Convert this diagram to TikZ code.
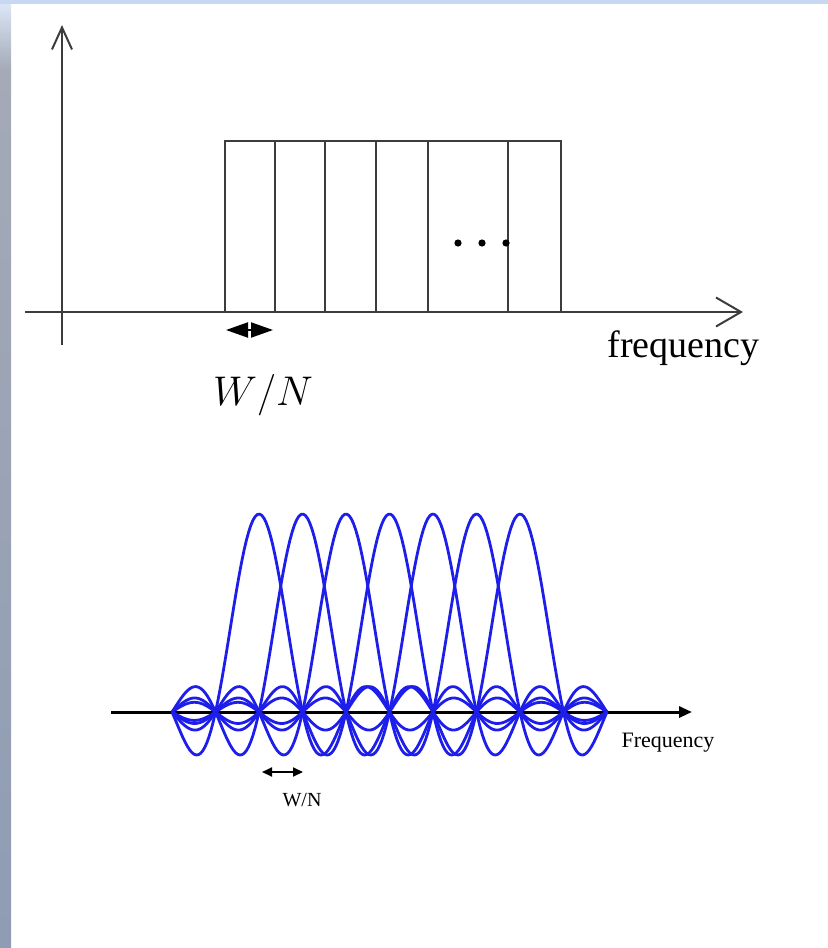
\documentclass[tikz,border=0pt]{standalone}
\usepackage{fontspec}
\setmainfont{Liberation Serif}
\usetikzlibrary{arrows.meta}
\definecolor{axisc}{RGB}{60,60,60}
\definecolor{pulsec}{RGB}{30,30,235}
\definecolor{frametop}{RGB}{222,233,250}
\definecolor{framemid}{RGB}{164,170,182}
\definecolor{framebot}{RGB}{143,156,180}
\definecolor{framebar}{RGB}{200,216,242}
\tikzset{
  plainaxis/.style={axisc, line width=1pt},
  subband/.style={axisc, line width=1pt},
  pulse/.style={pulsec, line width=1.4pt, line join=round},
  lbl/.style={inner sep=0pt, anchor=base},
}

\begin{document}
\begin{tikzpicture}[x=0.5pt, y=-0.5pt]
  \useasboundingbox (0,0) rectangle (828,948);
  % window frame
  \shade[top color=frametop, bottom color=framemid] (0,0) rectangle (11,70);
  \shade[top color=framemid, bottom color=framebot] (0,70) rectangle (11,948);
  \fill[framebar] (0,0) rectangle (828,4);

  % upper picture: ideal sub-bands
  \coordinate (yb) at (62,345);
  \coordinate (yt) at (62,25);
  \coordinate (xl) at (25,312);
  \coordinate (xr) at (743,312);
  \draw[plainaxis, -{Straight Barb[length=11pt, width=10pt]}] (yb) -- (yt);
  \draw[plainaxis, -{Straight Barb[length=12.5pt, width=14.5pt]}] (xl) -- (xr);
  \draw[subband] (225,312) rectangle (561,141);
  \foreach \xs in {275, 325, 376, 428, 508}
    \draw[subband] (\xs,141) -- (\xs,312);
  \foreach \xd in {458, 482, 506}
    \fill (\xd,243) circle[radius=3.6];
  \coordinate (wl) at (226,330);
  \coordinate (wr) at (273,330);
  \draw[line width=1pt, {Triangle[length=11pt, width=7.5pt]}-{Triangle[length=11pt, width=7.5pt]}] (wl) -- (wr);
  \node[lbl, font=\fontsize{22}{24}\selectfont] (wntop) at (263,405) {$W/N$};
  \node[lbl, font=\fontsize{19}{22}\selectfont] (freqtop) at (683.5,357) {frequency};

  % lower picture: overlapping sinc spectra
  \coordinate (al) at (111,712);
  \coordinate (ar) at (692,712);
  \draw[black, line width=1.5pt, -{Triangle[length=6.5pt, width=5.5pt]}] (al) -- (ar);
  \foreach \c in {2,...,8}
    \draw[pulse] plot[domain=0:10, samples=200]
      ({172+43.5*\x}, {712-198*sin(180*(\x-\c))/(pi*(\x-\c))});
  \coordinate (sl) at (262,772);
  \coordinate (sr) at (303,772);
  \draw[black, line width=1pt, {Triangle[length=5pt, width=4.5pt]}-{Triangle[length=5pt, width=4.5pt]}] (sl) -- (sr);
  \node[lbl, font=\fontsize{10}{12}\selectfont] (wnbot) at (302,806) {W/N};
  \node[lbl, font=\fontsize{11}{13}\selectfont] (freqbot) at (668,747) {Frequency};
\end{tikzpicture}
\end{document}
